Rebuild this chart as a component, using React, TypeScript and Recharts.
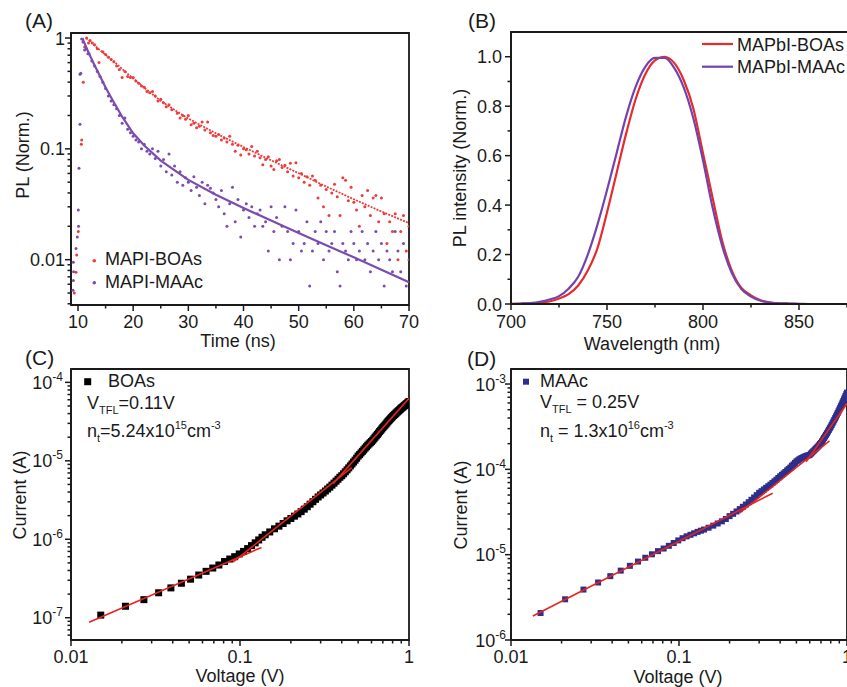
import type { ReactNode } from 'react';
import { ScatterChart, Scatter, LineChart, Line, XAxis, YAxis, ReferenceArea } from 'recharts';

const FONT = '"Liberation Sans", Arial, Helvetica, sans-serif';
const INK = '#1a1a1a';
const RED = '#ee3b3b';
const PURPLE = '#7a4cb0';
const FIT_RED = '#e8231f';
const NAVY = '#2d2f8a';

// ---------- (A) PL decay, [time ns, PL norm] ----------
const boaDecay = [
  [9.33, 0.005], [9.64, 0.0077], [9.76, 0.011], [10.05, 0.018], [10.6, 0.11], [10.67, 0.12],
  [10.96, 0.4], [11.2, 0.83], [11.55, 1.0], [11.9, 0.9], [12.2, 0.95], [12.6, 0.9], [13.0, 0.87],
  [13.5, 0.8], [13.8, 0.6], [14.5, 0.75], [15.0, 0.71], [15.5, 0.67], [16.0, 0.64], [16.5, 0.61],
  [17.0, 0.56], [17.5, 0.52], [18.0, 0.44], [18.5, 0.5], [19.0, 0.45], [19.5, 0.44], [20.0, 0.44],
  [20.5, 0.41], [21.0, 0.39], [21.5, 0.37], [22.0, 0.36], [22.5, 0.33], [23.0, 0.32], [23.5, 0.33],
  [24.0, 0.3], [24.5, 0.27], [25.0, 0.28], [25.5, 0.26], [26.0, 0.24], [26.5, 0.25], [27.0, 0.225],
  [28.0, 0.21], [28.5, 0.19], [29.0, 0.2], [29.5, 0.185], [30.0, 0.2], [30.5, 0.165], [31.0, 0.17],
  [31.5, 0.155], [32.0, 0.16], [32.5, 0.175], [33.0, 0.148], [33.5, 0.175], [34.0, 0.14], [34.5, 0.132],
  [35.0, 0.13], [35.5, 0.135], [36.0, 0.12], [36.5, 0.125], [37.0, 0.115], [37.5, 0.13], [38.0, 0.11],
  [38.5, 0.095], [39.0, 0.108], [39.5, 0.088], [40.0, 0.1], [40.5, 0.098], [41.0, 0.09], [41.5, 0.105],
  [42.0, 0.086], [42.5, 0.095], [43.0, 0.083], [43.5, 0.072], [44.0, 0.08], [44.5, 0.085], [45.0, 0.07],
  [45.5, 0.065], [46.0, 0.078], [46.5, 0.08], [47.0, 0.068], [47.5, 0.071], [48.0, 0.062], [48.5, 0.074],
  [49.0, 0.057], [49.5, 0.075], [50.0, 0.055], [50.5, 0.06], [51.0, 0.05], [51.5, 0.056], [52.0, 0.047],
  [52.5, 0.057], [53.0, 0.052], [53.5, 0.036], [54.0, 0.047], [54.5, 0.03], [55.0, 0.043], [55.5, 0.025],
  [56.0, 0.04], [56.5, 0.048], [57.0, 0.037], [57.5, 0.025], [58.0, 0.055], [58.5, 0.052], [59.0, 0.034],
  [59.5, 0.045], [60.0, 0.033], [60.5, 0.028], [61.0, 0.02], [61.5, 0.038], [62.0, 0.03], [62.5, 0.042],
  [63.0, 0.025], [63.5, 0.036], [64.0, 0.038], [64.5, 0.022], [65.0, 0.036], [65.5, 0.026], [66.0, 0.014],
  [66.5, 0.022], [67.0, 0.018], [67.5, 0.026], [68.0, 0.01], [68.5, 0.018], [69.0, 0.025], [69.5, 0.012],
  [70.0, 0.02],
];
const maacDecay = [
  [9.1, 0.0053], [9.15, 0.0065], [9.2, 0.0078], [9.15, 0.0095], [9.64, 0.0126], [9.87, 0.016],
  [10.1, 0.02], [10.05, 0.028], [10.18, 0.067], [10.36, 0.167], [10.36, 0.47], [10.5, 0.48],
  [10.67, 0.98], [10.9, 0.92], [11.2, 0.78], [11.5, 0.8], [11.8, 0.72], [12.0, 0.72], [12.5, 0.62],
  [13.0, 0.56], [13.5, 0.5], [14.0, 0.45], [14.5, 0.4], [15.0, 0.35], [15.5, 0.3], [16.0, 0.27],
  [16.5, 0.25], [17.0, 0.23], [17.5, 0.2], [18.0, 0.17], [18.5, 0.19], [19.0, 0.15], [19.5, 0.14],
  [20.0, 0.13], [20.5, 0.12], [21.0, 0.115], [21.5, 0.1], [22.0, 0.11], [22.5, 0.095], [23.0, 0.09],
  [23.5, 0.1], [24.0, 0.082], [24.5, 0.095], [25.0, 0.07], [25.5, 0.08], [26.0, 0.062], [26.5, 0.09],
  [27.0, 0.058], [27.5, 0.07], [28.0, 0.05], [28.5, 0.062], [29.0, 0.047], [29.5, 0.055], [30.0, 0.05],
  [30.5, 0.042], [31.0, 0.056], [31.5, 0.045], [32.0, 0.038], [32.5, 0.05], [33.0, 0.032], [33.5, 0.047],
  [34.0, 0.044], [34.5, 0.04], [35.0, 0.035], [35.5, 0.03], [36.0, 0.042], [36.5, 0.026], [37.0, 0.02],
  [37.5, 0.032], [38.0, 0.045], [38.5, 0.022], [39.0, 0.035], [39.5, 0.016], [40.0, 0.028], [40.5, 0.032],
  [41.0, 0.024], [41.5, 0.03], [42.0, 0.02], [42.5, 0.026], [43.0, 0.028], [43.5, 0.02], [44.0, 0.022],
  [44.5, 0.012], [45.0, 0.03], [45.5, 0.018], [46.0, 0.024], [46.5, 0.01], [47.0, 0.02], [47.5, 0.03],
  [48.0, 0.018], [48.5, 0.01], [49.0, 0.014], [49.5, 0.028], [50.0, 0.018], [50.5, 0.012], [51.0, 0.014],
  [51.5, 0.022], [52.0, 0.0058], [52.5, 0.012], [53.0, 0.018], [53.5, 0.014], [54.0, 0.022], [54.5, 0.01],
  [55.0, 0.018], [55.5, 0.012], [56.0, 0.014], [56.5, 0.018], [57.0, 0.0078], [57.5, 0.0058], [58.0, 0.014],
  [58.5, 0.012], [59.0, 0.01], [59.5, 0.018], [60.0, 0.014], [60.5, 0.01], [61.0, 0.012], [61.5, 0.018],
  [62.0, 0.01], [62.5, 0.014], [63.0, 0.0078], [63.5, 0.012], [64.0, 0.018], [64.5, 0.01], [65.0, 0.014],
  [65.5, 0.0058], [66.0, 0.012], [66.5, 0.01], [67.0, 0.0078], [67.5, 0.018], [68.0, 0.012], [68.5, 0.0078],
  [69.0, 0.014], [69.5, 0.0058], [70.0, 0.01],
];
const boaFit = [
  [11.5, 1.0], [12, 0.953], [13, 0.859], [14, 0.775], [15, 0.708], [16, 0.647], [18, 0.526],
  [20, 0.431], [22, 0.357], [25, 0.271], [28, 0.216], [30, 0.188], [35, 0.138], [40, 0.104],
  [45, 0.0788], [50, 0.0602], [55, 0.0457], [60, 0.0351], [65, 0.0272], [70, 0.0214],
];
const maacFit = [
  [10.8, 1.0], [11, 0.94], [12, 0.723], [13, 0.568], [14, 0.452], [15, 0.357], [16, 0.291],
  [18, 0.195], [20, 0.138], [22, 0.107], [25, 0.0783], [30, 0.0525], [35, 0.0385], [40, 0.0292],
  [45, 0.0226], [50, 0.0174], [55, 0.0135], [60, 0.0105], [65, 0.0081], [70, 0.00625],
];

// ---------- (B) PL spectra ----------
const wavelengths = [700, 705, 710, 715, 720, 725, 730, 735, 740, 745, 750, 755, 760, 765, 770, 775, 780,
  785, 790, 795, 800, 805, 810, 815, 820, 825, 830, 835, 840, 845, 850, 855, 860];
const boaSpectrum = [0, 0.001, 0.002, 0.005, 0.01, 0.022, 0.04, 0.075, 0.135, 0.225, 0.37, 0.53, 0.69,
  0.83, 0.93, 0.985, 1.0, 0.975, 0.905, 0.79, 0.61, 0.43, 0.255, 0.135, 0.065, 0.035, 0.015, 0.006,
  0.002, 0.001, 0, 0, 0];
const maacSpectrum = [0.001, 0.002, 0.004, 0.009, 0.018, 0.032, 0.062, 0.11, 0.2, 0.32, 0.46, 0.61, 0.76,
  0.88, 0.96, 0.995, 0.995, 0.955, 0.875, 0.75, 0.58, 0.39, 0.235, 0.125, 0.06, 0.03, 0.013, 0.006,
  0.003, 0.002, 0.001, 0, 0];

// ---------- (C) BOAs I-V, [V, A] ----------
const boaIV = [
  [0.015, 1.08e-7], [0.021, 1.4e-7], [0.027, 1.7e-7], [0.033, 2.08e-7], [0.039, 2.4e-7], [0.045, 2.75e-7],
  [0.051, 3.1e-7], [0.057, 3.5e-7], [0.063, 3.9e-7], [0.069, 4.3e-7], [0.075, 4.7e-7], [0.081, 5.2e-7],
  [0.087, 5.6e-7], [0.093, 6.0e-7], [0.099, 6.5e-7], [0.105, 7.0e-7], [0.111, 7.6e-7], [0.117, 8.3e-7],
  [0.123, 9.0e-7], [0.129, 9.8e-7], [0.135, 1.06e-6], [0.141, 1.14e-6],
  [0.15, 1.24e-6], [0.16, 1.36e-6], [0.17, 1.47e-6], [0.18, 1.59e-6], [0.19, 1.72e-6], [0.2, 1.84e-6],
  [0.21, 1.97e-6], [0.22, 2.1e-6], [0.23, 2.25e-6], [0.24, 2.42e-6], [0.25, 2.6e-6], [0.26, 2.8e-6],
  [0.27, 3.01e-6], [0.28, 3.23e-6], [0.29, 3.46e-6], [0.3, 3.67e-6], [0.31, 3.89e-6], [0.32, 4.12e-6],
  [0.33, 4.37e-6], [0.34, 4.62e-6], [0.35, 4.9e-6], [0.36, 5.19e-6], [0.37, 5.5e-6], [0.38, 5.82e-6],
  [0.39, 6.17e-6], [0.4, 6.46e-6], [0.41, 6.84e-6], [0.42, 7.24e-6], [0.43, 7.67e-6], [0.44, 8.13e-6],
  [0.45, 8.61e-6], [0.46, 9.12e-6], [0.47, 9.66e-6], [0.48, 1.02e-5], [0.49, 1.08e-5], [0.5, 1.15e-5],
  [0.51, 1.2e-5], [0.52, 1.26e-5], [0.53, 1.32e-5], [0.54, 1.38e-5], [0.55, 1.45e-5], [0.56, 1.51e-5],
  [0.57, 1.58e-5], [0.58, 1.64e-5], [0.59, 1.7e-5], [0.6, 1.76e-5], [0.61, 1.83e-5], [0.62, 1.91e-5],
  [0.63, 2.0e-5], [0.64, 2.08e-5], [0.65, 2.17e-5], [0.66, 2.26e-5], [0.67, 2.36e-5], [0.68, 2.45e-5],
  [0.69, 2.55e-5], [0.7, 2.65e-5], [0.71, 2.75e-5], [0.72, 2.84e-5], [0.73, 2.94e-5], [0.74, 3.05e-5],
  [0.75, 3.16e-5], [0.76, 3.26e-5], [0.77, 3.37e-5], [0.78, 3.48e-5], [0.79, 3.58e-5], [0.8, 3.69e-5],
  [0.81, 3.78e-5], [0.82, 3.88e-5], [0.83, 3.97e-5], [0.84, 4.07e-5], [0.85, 4.17e-5], [0.86, 4.27e-5],
  [0.87, 4.37e-5], [0.88, 4.47e-5], [0.89, 4.57e-5], [0.9, 4.68e-5], [0.91, 4.78e-5], [0.92, 4.86e-5],
  [0.93, 4.97e-5], [0.94, 5.06e-5], [0.95, 5.16e-5], [0.96, 5.26e-5], [0.97, 5.37e-5], [0.98, 5.47e-5],
  [0.99, 5.58e-5], [1.0, 5.69e-5],
];
const boaFitOhmic = [[0.0128, 8.77e-8], [0.134, 7.87e-7]];
const boaFitTrap = [[0.0912, 5.16e-7], [0.458, 8.17e-6]];
const boaFitChild = [[0.356, 5.12e-6], [1.0, 6.27e-5]];

// ---------- (D) MAAc I-V, [V, A] ----------
const maacIV = [
  [0.015, 2.07e-6], [0.021, 3.0e-6], [0.027, 3.9e-6], [0.033, 4.72e-6], [0.039, 5.6e-6], [0.045, 6.5e-6],
  [0.051, 7.4e-6], [0.057, 8.3e-6], [0.063, 9.2e-6], [0.069, 1.01e-5], [0.075, 1.1e-5], [0.081, 1.18e-5],
  [0.087, 1.27e-5], [0.093, 1.37e-5], [0.099, 1.47e-5], [0.105, 1.56e-5], [0.111, 1.64e-5], [0.117, 1.71e-5],
  [0.123, 1.78e-5], [0.129, 1.85e-5], [0.135, 1.91e-5], [0.141, 1.97e-5],
  [0.15, 2.07e-5], [0.16, 2.19e-5], [0.17, 2.32e-5], [0.18, 2.46e-5], [0.19, 2.62e-5], [0.2, 2.83e-5],
  [0.21, 3.01e-5], [0.22, 3.21e-5], [0.23, 3.42e-5], [0.24, 3.64e-5], [0.25, 3.87e-5], [0.26, 4.12e-5],
  [0.27, 4.4e-5], [0.28, 4.68e-5], [0.29, 4.99e-5], [0.3, 5.31e-5], [0.31, 5.55e-5], [0.32, 5.81e-5],
  [0.33, 6.07e-5], [0.34, 6.34e-5], [0.35, 6.62e-5], [0.36, 6.93e-5], [0.37, 7.24e-5], [0.38, 7.57e-5],
  [0.39, 7.92e-5], [0.4, 8.28e-5], [0.41, 8.63e-5], [0.42, 8.97e-5], [0.43, 9.33e-5], [0.44, 9.72e-5],
  [0.45, 1.01e-4], [0.46, 1.05e-4], [0.47, 1.1e-4], [0.48, 1.14e-4], [0.49, 1.19e-4], [0.5, 1.24e-4],
  [0.51, 1.27e-4], [0.52, 1.31e-4], [0.53, 1.34e-4], [0.54, 1.36e-4], [0.55, 1.39e-4], [0.56, 1.41e-4],
  [0.57, 1.43e-4], [0.58, 1.45e-4], [0.59, 1.46e-4], [0.6, 1.48e-4], [0.61, 1.53e-4], [0.62, 1.58e-4],
  [0.63, 1.63e-4], [0.64, 1.68e-4], [0.65, 1.74e-4], [0.66, 1.79e-4], [0.67, 1.85e-4], [0.68, 1.91e-4],
  [0.69, 1.98e-4], [0.7, 2.04e-4], [0.71, 2.13e-4], [0.72, 2.23e-4], [0.73, 2.33e-4], [0.74, 2.43e-4],
  [0.75, 2.54e-4], [0.76, 2.65e-4], [0.77, 2.77e-4], [0.78, 2.9e-4], [0.79, 3.03e-4], [0.8, 3.16e-4],
  [0.81, 3.31e-4], [0.82, 3.47e-4], [0.83, 3.63e-4], [0.84, 3.8e-4], [0.85, 3.98e-4], [0.86, 4.17e-4],
  [0.87, 4.37e-4], [0.88, 4.57e-4], [0.89, 4.79e-4], [0.9, 5.01e-4], [0.91, 5.25e-4], [0.92, 5.5e-4],
  [0.93, 5.75e-4], [0.94, 6.03e-4], [0.95, 6.31e-4], [0.96, 6.61e-4], [0.97, 6.92e-4], [0.98, 7.24e-4],
  [0.99, 7.59e-4], [1.0, 7.94e-4],
];
const maacFitOhmic = [[0.0135, 1.91e-6], [0.361, 5.25e-5]];
const maacFitTrap = [[0.229, 3.07e-5], [0.787, 2.15e-4]];
const maacFitChild = [[0.571, 1.23e-4], [1.0, 5.9e-4]];

// ---------- axes ----------
const aXDomain = [8.73, 70];
const aYDomain = [0.0039, 1.11];
const aXMajor = [10, 20, 30, 40, 50, 60, 70];
const aXMinor = [15, 25, 35, 45, 55, 65];
const aYMajor = [0.01, 0.1, 1];

const bXDomain = [700, 880];
const bYDomain = [0, 1.1];
const bXMajor = [700, 750, 800, 850];
const bXMinor = [725, 775, 825, 875];
const bYMajor = [0, 0.2, 0.4, 0.6, 0.8, 1.0];
const bYMinor = [0.1, 0.3, 0.5, 0.7, 0.9];

const cXDomain = [0.01, 1];
const cYDomain = [5.2e-8, 1.48e-4];
const dYDomain = [1e-6, 1.5e-3];
const voltMajor = [0.01, 0.1, 1];
const voltLabels = ['0.01', '0.1', '1'];
const cYMajor = [1e-7, 1e-6, 1e-5, 1e-4];
const dYMajor = [1e-6, 1e-5, 1e-4, 1e-3];

type Pt = { x: number; y: number };
const toPts = (pairs: number[][]): Pt[] => pairs.map(([x, y]) => ({ x, y }));

// minor + major ticks of a log axis (1..9 x 10^n inside the domain)
function logTicks(domain: number[]): number[] {
  const out: number[] = [];
  for (let e = Math.floor(Math.log10(domain[0])); e <= Math.ceil(Math.log10(domain[1])); e++) {
    for (let m = 1; m <= 9; m++) {
      const v = Number((m * Math.pow(10, e)).toPrecision(6));
      if (v >= domain[0] && v <= domain[1]) out.push(v);
    }
  }
  return out;
}

const isIn = (list: number[], v: number) => list.some((m) => Math.abs(m - v) <= Math.abs(m) * 1e-6 + 1e-12);

type Fmt = (v: number) => ReactNode;

const pow10: Fmt = (v) => (
  <>
    <tspan>10</tspan>
    <tspan dy={-8} fontSize={12}>{Math.round(Math.log10(v))}</tspan>
  </>
);

function bottomTick(majors: number[], fmt: Fmt, dy = 23) {
  return (p: any) => {
    const v = Number(p.payload?.value);
    const major = isIn(majors, v);
    return (
      <g>
        <line x1={p.x} x2={p.x} y1={p.y} y2={p.y + (major ? 6 : 3.5)} stroke={INK} strokeWidth={1.5} />
        {major && (
          <text x={p.x} y={p.y + dy} textAnchor="middle" fontFamily={FONT} fontSize={18} fill={INK}>
            {fmt(v)}
          </text>
        )}
      </g>
    );
  };
}

function leftTick(majors: number[], fmt: Fmt, gap: number) {
  return (p: any) => {
    const v = Number(p.payload?.value);
    const major = isIn(majors, v);
    return (
      <g>
        <line x1={p.x - (major ? 6 : 3.5)} x2={p.x} y1={p.y} y2={p.y} stroke={INK} strokeWidth={1.5} />
        {major && (
          <text x={p.x - gap} y={p.y + 6.5} textAnchor="end" fontFamily={FONT} fontSize={18} fill={INK}>
            {fmt(v)}
          </text>
        )}
      </g>
    );
  };
}

const axisLine = { stroke: INK, strokeWidth: 1.8 };
const none = () => <g />;
const dot = (fill: string) => (p: any) => <circle cx={p.cx} cy={p.cy} r={1.5} fill={fill} />;
const square = (fill: string, s: number) => (p: any) => (
  <rect x={p.cx - s / 2} y={p.cy - s / 2} width={s} height={s} fill={fill} />
);

function Frame({ x, y }: { x: number[]; y: number[] }) {
  return (
    <ReferenceArea x1={x[0]} x2={x[1]} y1={y[0]} y2={y[1]} fill="none" stroke={INK} strokeWidth={1.8} ifOverflow="visible" />
  );
}

function PanelA() {
  return (
    <ScatterChart width={430} height={350} margin={{ top: 33, right: 21, bottom: 0, left: 0 }}>
      <XAxis
        type="number" dataKey="x" domain={aXDomain} allowDataOverflow
        ticks={[...aXMajor, ...aXMinor].sort((a, b) => a - b)} interval={0}
        tick={bottomTick(aXMajor, (v) => String(v))} tickLine={false} tickSize={0} tickMargin={0}
        axisLine={axisLine} height={45}
      />
      <YAxis
        type="number" dataKey="y" scale="log" domain={aYDomain} allowDataOverflow
        ticks={logTicks(aYDomain)} interval={0}
        tick={leftTick(aYMajor, (v) => String(v), 6)} tickLine={false} tickSize={0} tickMargin={0}
        axisLine={axisLine} width={71}
      />
      <Frame x={aXDomain} y={aYDomain} />
      <Scatter data={toPts(boaDecay)} shape={dot(RED)} isAnimationActive={false} />
      <Scatter data={toPts(maacDecay)} shape={dot(PURPLE)} isAnimationActive={false} />
      <Scatter data={toPts(boaFit)} shape={none} line={{ stroke: RED, strokeWidth: 1.8, strokeDasharray: '2 1.2' }} lineType="joint" isAnimationActive={false} />
      <Scatter data={toPts(maacFit)} shape={none} line={{ stroke: PURPLE, strokeWidth: 2.2 }} lineType="joint" isAnimationActive={false} />
    </ScatterChart>
  );
}

const spectra = wavelengths.map((wl, i) => ({ wl, boa: boaSpectrum[i], maac: maacSpectrum[i] }));

function PanelB() {
  return (
    <LineChart width={440} height={350} data={spectra} margin={{ top: 32, right: 13.4, bottom: 0, left: 0 }}>
      <XAxis
        type="number" dataKey="wl" domain={bXDomain} allowDataOverflow
        ticks={[...bXMajor, ...bXMinor].sort((a, b) => a - b)} interval={0}
        tick={bottomTick(bXMajor, (v) => String(v), 24)} tickLine={false} tickSize={0} tickMargin={0}
        axisLine={axisLine} height={46}
      />
      <YAxis
        type="number" domain={bYDomain} allowDataOverflow
        ticks={[...bYMajor, ...bYMinor].sort((a, b) => a - b)} interval={0}
        tick={leftTick(bYMajor, (v) => v.toFixed(1), 9)} tickLine={false} tickSize={0} tickMargin={0}
        axisLine={axisLine} width={81}
      />
      <Frame x={bXDomain} y={bYDomain} />
      <Line type="monotone" dataKey="boa" stroke="#e62a2e" strokeWidth={2.2} dot={false} isAnimationActive={false} />
      <Line type="monotone" dataKey="maac" stroke="#7343ad" strokeWidth={2.2} dot={false} isAnimationActive={false} />
    </LineChart>
  );
}

function IVPanel(props: {
  yDomain: number[]; yMajor: number[]; yGap: number; yWidth: number; right: number;
  data: number[][]; color: string; size: number; fits: number[][][];
}) {
  return (
    <ScatterChart width={430} height={357} margin={{ top: 39, right: props.right, bottom: 0, left: 0 }}>
      <XAxis
        type="number" dataKey="x" scale="log" domain={cXDomain} allowDataOverflow
        ticks={logTicks(cXDomain)} interval={0}
        tick={bottomTick(voltMajor, (v) => voltLabels[voltMajor.findIndex((m) => isIn([m], v))])}
        tickLine={false} tickSize={0} tickMargin={0} axisLine={axisLine} height={47}
      />
      <YAxis
        type="number" dataKey="y" scale="log" domain={props.yDomain} allowDataOverflow
        ticks={logTicks(props.yDomain)} interval={0}
        tick={leftTick(props.yMajor, pow10, props.yGap)} tickLine={false} tickSize={0} tickMargin={0}
        axisLine={axisLine} width={props.yWidth}
      />
      <Frame x={cXDomain} y={props.yDomain} />
      <Scatter data={toPts(props.data)} shape={square(props.color, props.size)} isAnimationActive={false} />
      {props.fits.map((f, i) => (
        <Scatter key={i} data={toPts(f)} shape={none} line={{ stroke: FIT_RED, strokeWidth: 1.6 }} lineType="joint" isAnimationActive={false} />
      ))}
    </ScatterChart>
  );
}

const txt = { fontFamily: FONT, fontSize: 18, fill: INK };
const sub = { fontSize: 11 };

function Overlay() {
  return (
    <svg width={847} height={687} style={{ position: 'absolute', left: 0, top: 0, pointerEvents: 'none' }}>
      <g {...txt} fontSize={21}>
        <text x={25} y={28}>(A)</text>
        <text x={468} y={28}>(B)</text>
        <text x={25} y={365}>(C)</text>
        <text x={467} y={366}>(D)</text>
      </g>
      <g {...txt}>
        <text x={238} y={347} textAnchor="middle">Time (ns)</text>
        <text x={652} y={350} textAnchor="middle">Wavelength (nm)</text>
        <text x={240} y={682} textAnchor="middle">Voltage (V)</text>
        <text x={678} y={683} textAnchor="middle">Voltage (V)</text>
        <text transform="translate(29,155) rotate(-90)" textAnchor="middle">PL (Norm.)</text>
        <text transform="translate(466,168) rotate(-90)" textAnchor="middle">PL intensity (Norm.)</text>
        <text transform="translate(26,495) rotate(-90)" textAnchor="middle">Current (A)</text>
        <text transform="translate(467,505) rotate(-90)" textAnchor="middle">Current (A)</text>

        {/* (A) legend */}
        <circle cx={94.3} cy={260.7} r={1.8} fill={RED} />
        <text x={105} y={265}>MAPI-BOAs</text>
        <circle cx={94.3} cy={282.7} r={1.8} fill={PURPLE} />
        <text x={105} y={287.5}>MAPI-MAAc</text>

        {/* (B) legend */}
        <line x1={702} x2={733} y1={44} y2={44} stroke="#e62a2e" strokeWidth={2.2} />
        <text x={737} y={50.5}>MAPbI-BOAs</text>
        <line x1={702} x2={733} y1={66.7} y2={66.7} stroke="#7343ad" strokeWidth={2.2} />
        <text x={737} y={73}>MAPbI-MAAc</text>

        {/* (C) legend + notes */}
        <rect x={84.2} y={378.2} width={7} height={7} fill="#000" />
        <text x={108} y={387}>BOAs</text>
        <text x={87} y={409}>
          <tspan>V</tspan><tspan dy={5} {...sub}>TFL</tspan><tspan dy={-5}>=0.11V</tspan>
        </text>
        <text x={87} y={437}>
          <tspan>n</tspan><tspan dy={5} {...sub}>t</tspan><tspan dy={-5}>=5.24x10</tspan>
          <tspan dy={-8} {...sub}>15</tspan><tspan dy={8}>cm</tspan><tspan dy={-8} {...sub}>-3</tspan>
        </text>

        {/* (D) legend + notes */}
        <rect x={523} y={378.7} width={6} height={6} fill={NAVY} />
        <text x={540} y={387}>MAAc</text>
        <text x={540} y={408}>
          <tspan>V</tspan><tspan dy={5} {...sub}>TFL</tspan><tspan dy={-5}> = 0.25V</tspan>
        </text>
        <text x={540} y={437}>
          <tspan>n</tspan><tspan dy={5} {...sub}>t</tspan><tspan dy={-5}> = 1.3x10</tspan>
          <tspan dy={-8} {...sub}>16</tspan><tspan dy={8}>cm</tspan><tspan dy={-8} {...sub}>-3</tspan>
        </text>
      </g>
    </svg>
  );
}

export default function App() {
  return (
    <div style={{ position: 'absolute', left: 0, top: 0, width: 847, height: 687, overflow: 'hidden', background: '#fff', fontFamily: FONT }}>
      <div style={{ position: 'absolute', left: 0, top: 0 }}>
        <PanelA />
      </div>
      <div style={{ position: 'absolute', left: 430, top: 0 }}>
        <PanelB />
      </div>
      <div style={{ position: 'absolute', left: 0, top: 330 }}>
        <IVPanel yDomain={cYDomain} yMajor={cYMajor} yGap={8} yWidth={71} right={21}
          data={boaIV} color="#000" size={7} fits={[boaFitOhmic, boaFitTrap, boaFitChild]} />
      </div>
      <div style={{ position: 'absolute', left: 430, top: 330 }}>
        <IVPanel yDomain={dYDomain} yMajor={dYMajor} yGap={5} yWidth={81} right={13}
          data={maacIV} color={NAVY} size={6} fits={[maacFitOhmic, maacFitTrap, maacFitChild]} />
      </div>
      <Overlay />
    </div>
  );
}
